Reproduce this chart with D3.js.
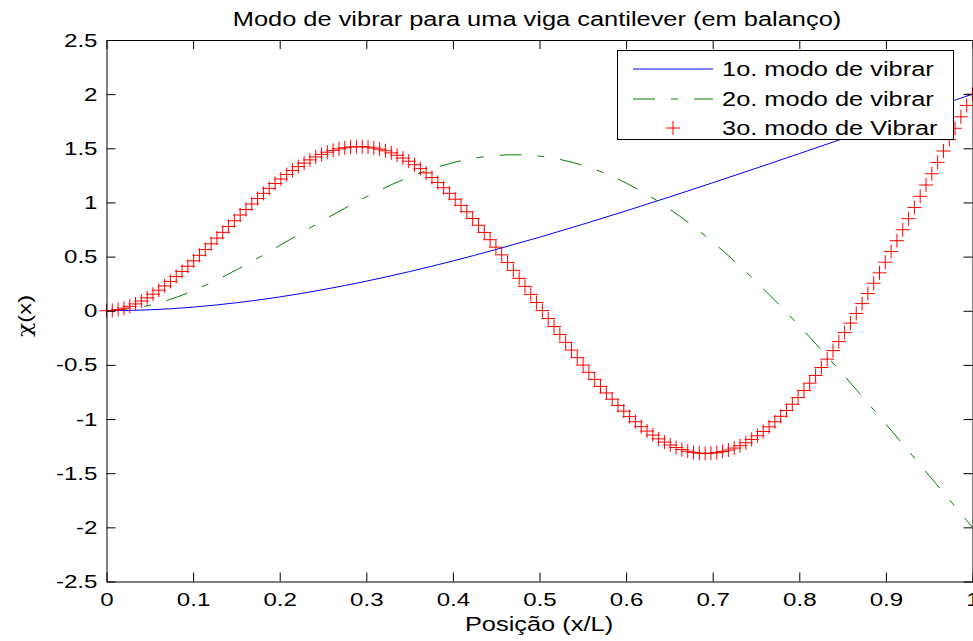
<!DOCTYPE html>
<html>
<head>
<meta charset="utf-8">
<script src="https://d3js.org/d3.v7.min.js"></script>
<style>
  body { margin: 0; background: #fff; }
  text { font-family: "Liberation Sans", Arial, Helvetica, sans-serif; }
</style>
</head>
<body>
<div id="chart"></div>
<script>
// values
var xPos = [0, 0.05, 0.1, 0.15, 0.2, 0.25, 0.3, 0.35, 0.4, 0.45, 0.5,
            0.55, 0.6, 0.65, 0.7, 0.75, 0.8, 0.85, 0.9, 0.95, 1];
var mode1 = [0, 0.0086, 0.0335, 0.0737, 0.1277, 0.1946, 0.2730, 0.3617, 0.4598, 0.5659, 0.6790,
             0.7982, 0.9223, 1.0504, 1.1817, 1.3155, 1.4510, 1.5875, 1.7248, 1.8624, 2.0000];
var mode2 = [0, 0.0507, 0.1853, 0.3776, 0.6021, 0.8345, 1.0523, 1.2354, 1.3669, 1.4339, 1.4273,
             1.3425, 1.1790, 0.9404, 0.6341, 0.2700, -0.1401, -0.5833, -1.0475, -1.5221, -2.0000];

// 3rd mode, one value per marker (150 samples over 0..1)
var mode3Step = 1 / 149;
var mode3 = [0, 0.003, 0.011, 0.024, 0.041, 0.063, 0.090, 0.119, 0.153, 0.190,
  0.229, 0.271, 0.316, 0.363, 0.411, 0.461, 0.512, 0.565, 0.618, 0.671,
  0.724, 0.778, 0.831, 0.884, 0.935, 0.986, 1.036, 1.084, 1.130, 1.175,
  1.217, 1.258, 1.296, 1.331, 1.363, 1.393, 1.420, 1.444, 1.464, 1.481,
  1.495, 1.505, 1.512, 1.515, 1.515, 1.511, 1.503, 1.492, 1.477, 1.458,
  1.436, 1.410, 1.381, 1.348, 1.312, 1.273, 1.230, 1.184, 1.136, 1.084,
  1.030, 0.973, 0.914, 0.852, 0.789, 0.723, 0.656, 0.587, 0.516, 0.445,
  0.373, 0.299, 0.225, 0.151, 0.076, 0.002, -0.072, -0.146, -0.219, -0.292,
  -0.363, -0.433, -0.502, -0.569, -0.634, -0.698, -0.759, -0.817, -0.874, -0.927,
  -0.978, -1.025, -1.070, -1.111, -1.148, -1.183, -1.213, -1.240, -1.263, -1.282,
  -1.297, -1.308, -1.315, -1.318, -1.316, -1.310, -1.300, -1.286, -1.268, -1.246,
  -1.219, -1.188, -1.154, -1.115, -1.072, -1.025, -0.975, -0.921, -0.863, -0.802,
  -0.737, -0.669, -0.598, -0.524, -0.447, -0.368, -0.285, -0.201, -0.114, -0.025,
  0.066, 0.159, 0.254, 0.350, 0.448, 0.547, 0.647, 0.748, 0.850, 0.953,
  1.057, 1.161, 1.265, 1.370, 1.475, 1.580, 1.685, 1.791, 1.896, 2.000];

var xTicks = [0, 0.1, 0.2, 0.3, 0.4, 0.5, 0.6, 0.7, 0.8, 0.9, 1];
var xTickLabels = ["0", "0.1", "0.2", "0.3", "0.4", "0.5", "0.6", "0.7", "0.8", "0.9", "1"];
var yTicks = [-2.5, -2, -1.5, -1, -0.5, 0, 0.5, 1, 1.5, 2, 2.5];
var yTickLabels = ["-2.5", "-2", "-1.5", "-1", "-0.5", "0", "0.5", "1", "1.5", "2", "2.5"];
var legendLabels = ["1o. modo de vibrar", "2o. modo de vibrar", "3o. modo de Vibrar"];

// svg params
var svgWidth = 973;
var svgHeight = 641;
var margin = { top: 40, right: 0.5, bottom: 59.5, left: 106.5 };
var chartWidth = svgWidth - margin.left - margin.right;
var chartHeight = svgHeight - margin.top - margin.bottom;
var stretch = 1.27; // the original figure is stretched sideways
var dash = "22,16,7,16";

var svg = d3.select("#chart").append("svg")
  .attr("width", svgWidth)
  .attr("height", svgHeight);

var chartGroup = svg.append("g")
  .attr("transform", `translate(${margin.left}, ${margin.top})`);

var xScale = d3.scaleLinear().domain([0, 1]).range([0, chartWidth]);
var yScale = d3.scaleLinear().domain([-2.5, 2.5]).range([chartHeight, 0]);

// curves
var line = d3.line()
  .x((d, i) => xScale(xPos[i]))
  .y(d => yScale(d))
  .curve(d3.curveNatural);

chartGroup.append("path")
  .attr("d", line(mode1))
  .attr("fill", "none")
  .attr("stroke", "#0000ff")
  .attr("stroke-width", 1);

chartGroup.append("path")
  .attr("d", line(mode2))
  .attr("fill", "none")
  .attr("stroke", "#008000")
  .attr("stroke-width", 1)
  .attr("stroke-dasharray", dash);

var plus = "M-7,0H7M0,-7V7";
chartGroup.selectAll(".m3")
  .data(mode3)
  .enter()
  .append("path")
  .attr("class", "m3")
  .attr("transform", (d, i) => `translate(${xScale(i * mode3Step)}, ${yScale(d)})`)
  .attr("d", plus)
  .attr("fill", "none")
  .attr("stroke", "#ff0000")
  .attr("stroke-width", 1);

// axes, ticks pointing inwards on all four sides
var xAxis = d3.axisBottom(xScale).tickValues(xTicks)
  .tickFormat((d, i) => xTickLabels[i])
  .tickSizeInner(-9).tickSizeOuter(0).tickPadding(11);
var yAxis = d3.axisLeft(yScale).tickValues(yTicks)
  .tickFormat((d, i) => yTickLabels[i])
  .tickSizeInner(-9).tickSizeOuter(0).tickPadding(7.1);
var topAxis = d3.axisTop(xScale).tickValues(xTicks).tickFormat("")
  .tickSizeInner(-9).tickSizeOuter(0);
var rightAxis = d3.axisRight(yScale).tickValues(yTicks).tickFormat("")
  .tickSizeInner(-9).tickSizeOuter(0);

var gx = chartGroup.append("g")
  .attr("transform", `translate(0, ${chartHeight})`)
  .call(xAxis);
var gy = chartGroup.append("g").call(yAxis);
var gt = chartGroup.append("g").call(topAxis);
var gr = chartGroup.append("g")
  .attr("transform", `translate(${chartWidth}, 0)`)
  .call(rightAxis);

[gx, gy, gt, gr].forEach(function(g) {
  g.attr("color", "#000")
    .attr("font-family", null)
    .attr("font-size", null);
  g.selectAll("text")
    .attr("font-size", "19px")
    .attr("fill", "#000")
    .attr("transform", `scale(${stretch}, 1)`);
});

// title and axis labels
svg.append("text")
  .attr("transform", `translate(537, 26) scale(${stretch}, 1)`)
  .attr("text-anchor", "middle")
  .attr("font-size", "20px")
  .text("Modo de vibrar para uma viga cantilever (em balanço)");

svg.append("text")
  .attr("transform", `translate(539, 631) scale(${stretch}, 1)`)
  .attr("text-anchor", "middle")
  .attr("font-size", "20px")
  .text("Posição (x/L)");

var yLabel = svg.append("text")
  .attr("transform", "translate(31, 316) rotate(-90) scale(1.25, 1)")
  .attr("text-anchor", "middle")
  .attr("font-size", "19px");
yLabel.append("tspan")
  .attr("font-family", "'DejaVu Serif', serif")
  .text("χ");
yLabel.append("tspan").text("(x)");

// legend
var legend = svg.append("g");
legend.append("rect")
  .attr("x", 617.5)
  .attr("y", 50.5)
  .attr("width", 336)
  .attr("height", 89)
  .attr("fill", "#fff")
  .attr("stroke", "#000")
  .attr("stroke-width", 1);

var legendY = [69, 99, 128];
legend.append("line")
  .attr("x1", 633).attr("x2", 713)
  .attr("y1", legendY[0]).attr("y2", legendY[0])
  .attr("stroke", "#0000ff");
legend.append("line")
  .attr("x1", 633).attr("x2", 713)
  .attr("y1", legendY[1]).attr("y2", legendY[1])
  .attr("stroke", "#008000")
  .attr("stroke-dasharray", dash);
legend.append("path")
  .attr("transform", `translate(673, ${legendY[2]})`)
  .attr("d", plus)
  .attr("fill", "none")
  .attr("stroke", "#ff0000");

legend.selectAll(".legText")
  .data(legendLabels)
  .enter()
  .append("text")
  .attr("class", "legText")
  .attr("transform", (d, i) => `translate(722, ${legendY[i] + 7}) scale(${stretch}, 1)`)
  .attr("font-size", "20px")
  .attr("fill", "#000")
  .text(d => d);
</script>
</body>
</html>
